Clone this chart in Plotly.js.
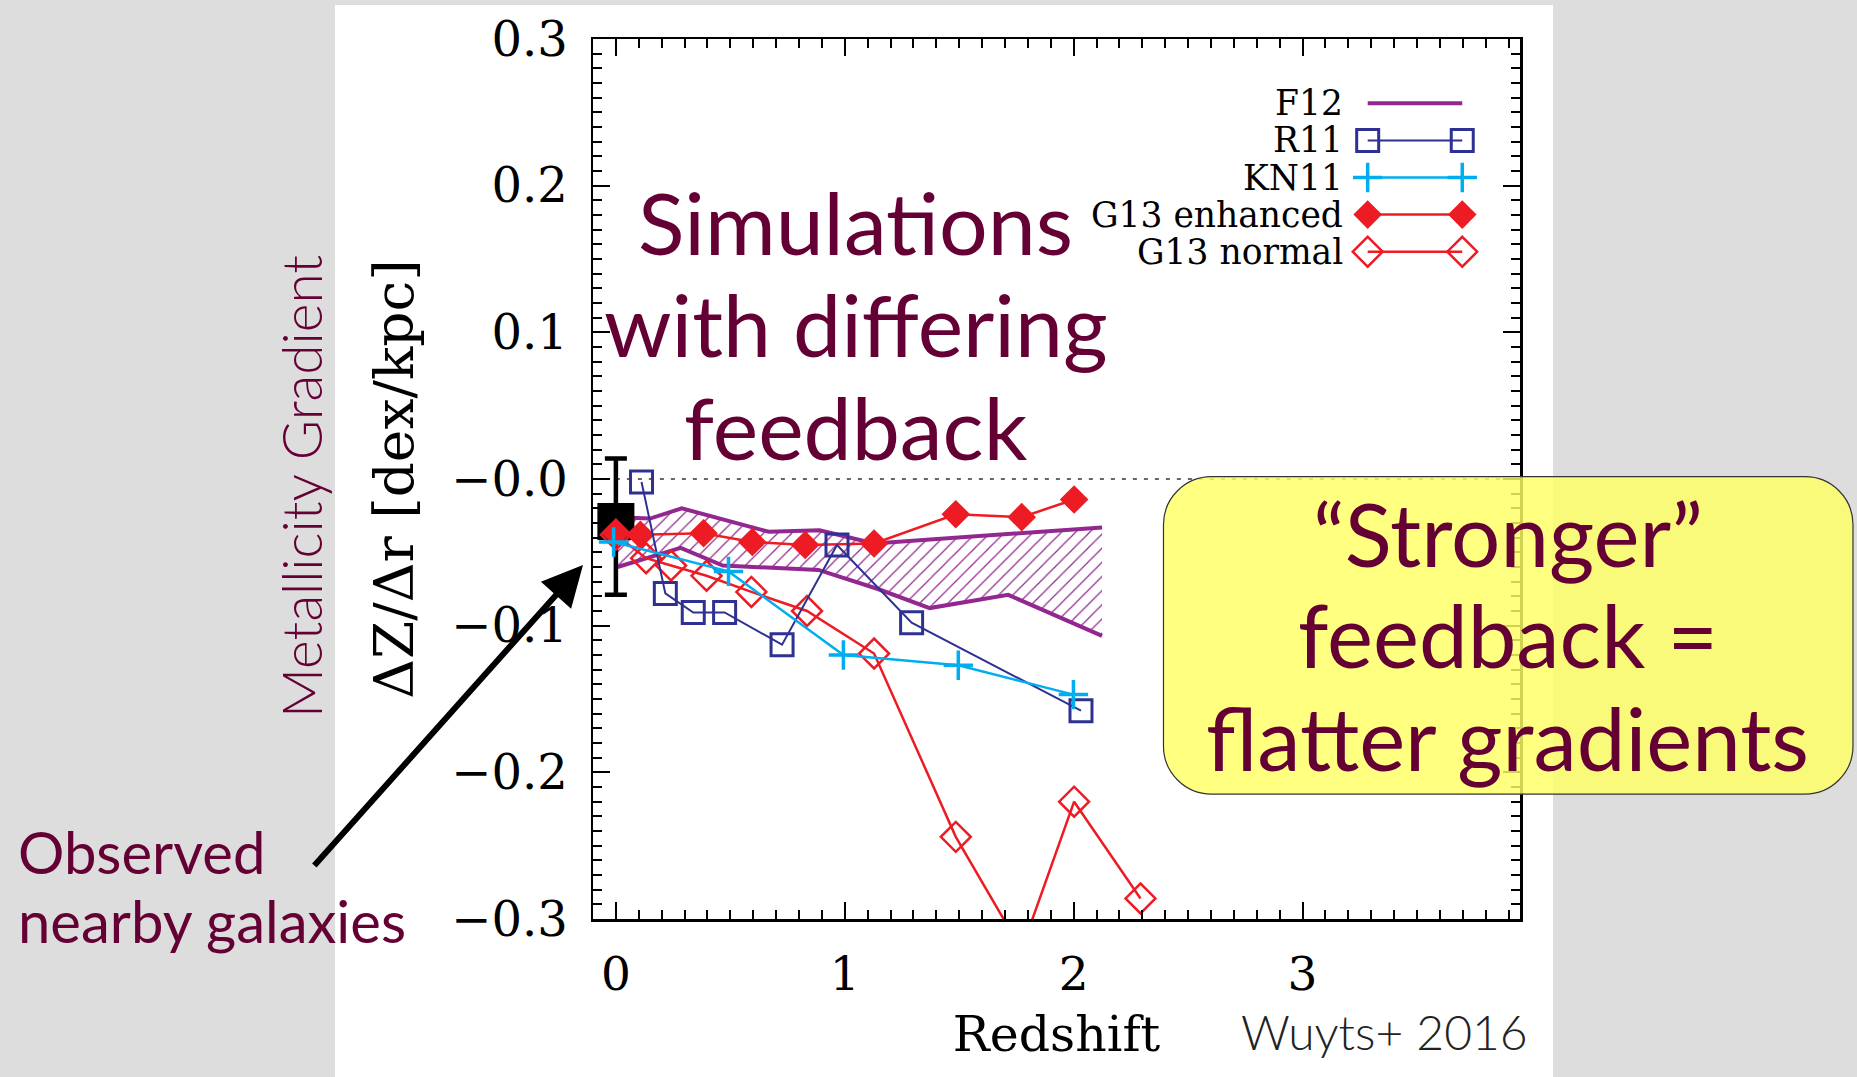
<!DOCTYPE html>
<html>
<head>
<meta charset="utf-8">
<script src="https://cdn.plot.ly/plotly-3.0.1.min.js"></script>
<style>
  html, body { margin: 0; padding: 0; background: #dddddd; }
  #chart { width: 1857px; height: 1077px; }
</style>
</head>
<body>
<div id="chart"></div>
<script>
// Radial metallicity gradient vs. redshift: observations and simulations

// Observed nearby galaxies (z ~ 0)
const obsRedshift = [0.0];
const obsGradient = [-0.029];
const obsErrPlus = [0.043];
const obsErrMinus = [0.050];

// F12: range spanned by the models (upper and lower envelope)
const f12UpperRedshift = [0.0, 0.149, 0.288, 0.668, 0.890, 1.128, 2.124];
const f12UpperGradient = [-0.026, -0.027, -0.020, -0.036, -0.035, -0.044, -0.033];
const f12LowerRedshift = [0.007, 0.283, 0.467, 0.885, 1.145, 1.371, 1.714, 2.124];
const f12LowerGradient = [-0.060, -0.047, -0.059, -0.062, -0.075, -0.088, -0.079, -0.107];

// R11
const r11Redshift = [0.112, 0.216, 0.338, 0.475, 0.726, 0.966, 1.292, 2.032];
const r11Gradient = [-0.002, -0.078, -0.091, -0.091, -0.113, -0.045, -0.098, -0.158];

// KN11
const kn11Redshift = [-0.010, 0.492, 0.994, 1.496, 1.999];
const kn11Gradient = [-0.043, -0.063, -0.120, -0.127, -0.147];

// G13 enhanced feedback
const g13eRedshift = [0.0, 0.107, 0.383, 0.596, 0.827, 1.128, 1.485, 1.773, 2.002];
const g13eGradient = [-0.037, -0.038, -0.037, -0.043, -0.045, -0.044, -0.024, -0.026, -0.014];

// G13 normal feedback
const g13nRedshift = [0.0, 0.132, 0.241, 0.396, 0.592, 0.835, 1.128, 1.485, 1.772, 2.002, 2.292];
const g13nGradient = [-0.038, -0.054, -0.059, -0.066, -0.077, -0.090, -0.119, -0.244, -0.321, -0.220, -0.286];

// Axis ticks
const xTickVals = [0, 1, 2, 3];
const yTickVals = [-0.3, -0.2, -0.1, 0.0, 0.1, 0.2, 0.3];
const yTickText = ['\u22120.3', '\u22120.2', '\u22120.1', '\u22120.0', '0.1', '0.2', '0.3'];

// Legend entries (top to bottom)
const legendNames = ['F12', 'R11', 'KN11', 'G13 enhanced', 'G13 normal'];

// Slide text
const simulationsLines = ['Simulations', 'with differing', 'feedback'];
const conclusionLines = ['\u201cStronger\u201d', 'feedback =', 'flatter gradients'];
const observedLines = ['Observed', 'nearby galaxies'];

// Colours
const cF12 = '#92278f';
const cR11 = '#2e3192';
const cKN11 = '#00aeef';
const cG13 = '#ed1c24';
const cText = '#650035';

const serif = 'DejaVu Serif';
const sans = 'Lato';

// marker / line styles per series
const styles = {
  'F12': { mode: 'lines', line: { color: cF12, width: 4 } },
  'R11': { mode: 'lines+markers', line: { color: cR11, width: 2 },
           marker: { symbol: 'square-open', size: 22, color: cR11, line: { width: 3, color: cR11 } } },
  'KN11': { mode: 'lines+markers', line: { color: cKN11, width: 2.5 },
            marker: { symbol: 'cross-thin', size: 21, color: cKN11, line: { width: 3.5, color: cKN11 } } },
  'G13 enhanced': { mode: 'lines+markers', line: { color: cG13, width: 2.5 },
                    marker: { symbol: 'diamond', size: 22, color: cG13, line: { width: 0 } } },
  'G13 normal': { mode: 'lines+markers', line: { color: cG13, width: 2.5 },
                  marker: { symbol: 'diamond-open', size: 23, color: cG13, line: { width: 2.5, color: cG13 } } }
};

const traces = [];

// F12 hatched band
traces.push(Object.assign({
  x: f12LowerRedshift, y: f12LowerGradient, type: 'scatter', showlegend: false, hoverinfo: 'skip'
}, styles['F12']));
traces.push(Object.assign({
  x: f12UpperRedshift, y: f12UpperGradient, type: 'scatter', showlegend: false, hoverinfo: 'skip',
  fill: 'tonexty', fillcolor: 'rgba(0,0,0,0)',
  fillpattern: { shape: '/', fgcolor: cF12, bgcolor: 'rgba(0,0,0,0)', size: 10, solidity: 0.12 }
}, styles['F12']));

// Observed point with error bar
traces.push({
  x: obsRedshift, y: obsGradient, type: 'scatter', mode: 'markers', showlegend: false,
  marker: { symbol: 'square', size: 37, color: 'black' },
  error_y: { type: 'data', symmetric: false, array: obsErrPlus, arrayminus: obsErrMinus,
             color: 'black', thickness: 4.5, width: 11 }
});

const seriesData = [
  ['G13 enhanced', g13eRedshift, g13eGradient],
  ['G13 normal', g13nRedshift, g13nGradient],
  ['R11', r11Redshift, r11Gradient],
  ['KN11', kn11Redshift, kn11Gradient]
];
seriesData.forEach(([name, xs, ys]) => {
  traces.push(Object.assign({ x: xs, y: ys, type: 'scatter', name: name, showlegend: false }, styles[name]));
});

// Legend keys on an overlay axis pair: a short line with a symbol at each end
legendNames.forEach((name, i) => {
  traces.push(Object.assign({
    x: [0, 1], y: [i, i], type: 'scatter', xaxis: 'x2', yaxis: 'y2',
    showlegend: false, hoverinfo: 'skip', cliponaxis: false
  }, styles[name]));
});

// Rounded-corner path in paper coordinates
function roundedRect(x0, y0, x1, y1, rx, ry) {
  const k = 0.5523;
  return [
    'M', x0 + rx, y1,
    'L', x1 - rx, y1,
    'C', x1 - rx * (1 - k), y1, x1, y1 - ry * (1 - k), x1, y1 - ry,
    'L', x1, y0 + ry,
    'C', x1, y0 + ry * (1 - k), x1 - rx * (1 - k), y0, x1 - rx, y0,
    'L', x0 + rx, y0,
    'C', x0 + rx * (1 - k), y0, x0, y0 + ry * (1 - k), x0, y0 + ry,
    'L', x0, y1 - ry,
    'C', x0, y1 - ry * (1 - k), x0 + rx * (1 - k), y1, x0 + rx, y1,
    'Z'
  ].join(' ');
}

// One annotation per text line, so line spacing can be set freely
function textLines(lines, x, ys, xanchor, size, weight) {
  return lines.map((t, i) => ({
    text: t, xref: 'paper', yref: 'paper', x: x, y: ys[i],
    xanchor: xanchor, yanchor: 'middle', showarrow: false,
    font: { family: sans, size: size, weight: weight || 400, color: cText }
  }));
}

const axisCommon = {
  ticks: 'inside', ticklen: 17, tickwidth: 2, tickcolor: 'black',
  showline: true, linewidth: 2.5, linecolor: 'black', mirror: 'ticks',
  showgrid: false, zeroline: false
};

const legendText = legendNames.map((name, i) => ({
  text: name, xref: 'x2', yref: 'y2', x: -0.24, y: i,
  xanchor: 'right', yanchor: 'middle', showarrow: false,
  font: { family: serif, size: 34.5, color: 'black' }
}));

const layout = {
  width: 1857, height: 1077,
  margin: { l: 593, r: 337, t: 39, b: 158, pad: 0 },
  paper_bgcolor: '#dddddd',
  plot_bgcolor: 'white',
  showlegend: false,
  font: { family: serif, color: 'black' },
  xaxis: Object.assign({}, axisCommon, {
    range: [-0.1, 3.95],
    tickmode: 'array', tickvals: xTickVals,
    tickfont: { family: serif, size: 47, color: 'black' },
    ticklabelstandoff: 12,
    minor: { ticks: 'inside', ticklen: 9, tickwidth: 2, tickcolor: 'black', dtick: 0.1, tick0: 0, showgrid: false },
    title: { text: 'Redshift', font: { family: serif, size: 49, color: 'black' }, standoff: 17 }
  }),
  yaxis: Object.assign({}, axisCommon, {
    range: [-0.3, 0.3],
    tickmode: 'array', tickvals: yTickVals, ticktext: yTickText,
    tickfont: { family: serif, size: 48, color: 'black' },
    ticklabelstandoff: 13,
    minor: { ticks: 'inside', ticklen: 9, tickwidth: 2, tickcolor: 'black', dtick: 0.01, tick0: 0, showgrid: false },
    title: { text: '\u0394Z/\u0394r [dex/kpc]', font: { family: serif, size: 55, color: 'black' }, standoff: 20 }
  }),
  xaxis2: { domain: [0.8000, 0.9581], range: [-0.35, 1.2], visible: false, anchor: 'y2', fixedrange: true },
  yaxis2: { domain: [0.7372, 0.948], range: [4.5, -0.5], visible: false, anchor: 'x2', fixedrange: true },
  shapes: [
    // white slide panel behind the chart
    { type: 'rect', xref: 'paper', yref: 'paper', x0: -0.2783, x1: 1.0356, y0: -0.20, y1: 1.0386,
      fillcolor: 'white', line: { width: 0 }, layer: 'below' },
    // zero-gradient reference
    { type: 'line', xref: 'x', yref: 'y', x0: 0, x1: 3.95, y0: 0, y1: 0,
      line: { color: '#666666', width: 2, dash: '4px,7px' }, layer: 'below' },
    // highlighted conclusion box
    { type: 'path', xref: 'paper', yref: 'paper',
      path: roundedRect(0.6154, 0.1420, 1.3592, 0.5026, 48 / 927, 48 / 880),
      fillcolor: 'rgba(255,255,100,0.82)', line: { color: '#333333', width: 1.2 }, layer: 'above' }
  ],
  annotations: legendText
    .concat(textLines(simulationsLines, 0.2837, [0.7924, 0.6768, 0.5594], 'center', 86))
    .concat(textLines(conclusionLines, 0.987, [0.4386, 0.3235, 0.2057], 'center', 87))
    .concat(textLines(observedLines, -0.6224, [0.0766, -0.0018], 'left', 58))
    .concat([
      { text: 'Metallicity Gradient', xref: 'paper', yref: 'paper', textangle: -90,
        x: -0.3156, y: 0.4913, xanchor: 'center', yanchor: 'middle', showarrow: false,
        font: { family: sans, size: 55, weight: 300, color: cText } },
      { text: 'Wuyts+ 2016', xref: 'paper', yref: 'paper', x: 0.6965, y: -0.1284,
        xanchor: 'left', yanchor: 'middle', showarrow: false,
        font: { family: sans, size: 48, weight: 300, color: '#222222' } },
      // arrow pointing at the observed value
      { text: '', xref: 'paper', yref: 'paper', x: -0.0108, y: 0.4023,
        showarrow: true, axref: 'pixel', ayref: 'pixel', ax: -270, ay: 302,
        arrowhead: 2, arrowsize: 1.35, arrowwidth: 6, arrowcolor: 'black', standoff: 0, startstandoff: 0 }
    ])
};

Plotly.newPlot('chart', traces, layout, { displayModeBar: false, staticPlot: true });
</script>
</body>
</html>
